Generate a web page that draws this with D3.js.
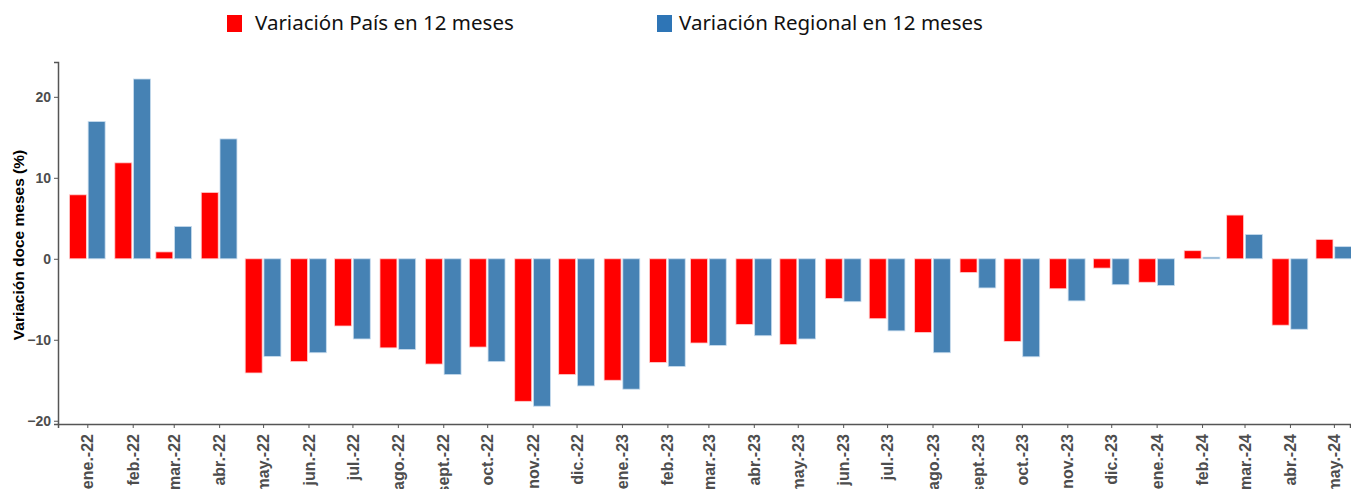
<!DOCTYPE html>
<html>
<head>
<meta charset="utf-8">
<script src="https://cdn.jsdelivr.net/npm/d3@7"></script>
<style>
  body { margin: 0; background: #fff; }
</style>
</head>
<body>
<div id="chart"></div>
<script>
// month labels and values
const months = ["ene.-22","feb.-22","mar.-22","abr.-22","may.-22","jun.-22","jul.-22","ago.-22","sept.-22","oct.-22","nov.-22","dic.-22",
                "ene.-23","feb.-23","mar.-23","abr.-23","may.-23","jun.-23","jul.-23","ago.-23","sept.-23","oct.-23","nov.-23","dic.-23",
                "ene.-24","feb.-24","mar.-24","abr.-24","may.-24"]
const pais = [7.9, 11.85, 0.85, 8.2, -14.1, -12.7, -8.3, -11.0, -13.0, -10.9, -17.6, -14.3,
              -15.0, -12.8, -10.4, -8.1, -10.6, -4.9, -7.4, -9.1, -1.7, -10.2, -3.7, -1.15,
              -2.9, 1.0, 5.4, -8.2, 2.4]
const regional = [16.95, 22.2, 4.0, 14.8, -12.05, -11.6, -9.9, -11.2, -14.3, -12.7, -18.2, -15.7,
                  -16.1, -13.3, -10.7, -9.5, -9.9, -5.3, -8.9, -11.6, -3.6, -12.1, -5.2, -3.2,
                  -3.3, 0.2, 3.0, -8.7, 1.5]
const yTicks = [-20, -10, 0, 10, 20]
const seriesNames = ["Variación País en 12 meses", "Variación Regional en 12 meses"]
const colors = ["#ff0000", "#4682b4"]

const W = 1351, H = 489
const margin = {top: 62, right: 1, bottom: 65, left: 58}

const dates = months.map((m, i) => new Date(2022 + Math.floor(i / 12), i % 12, 1))

const svg = d3.select("#chart").append("svg")
    .attr("width", W).attr("height", H)

const x = d3.scaleTime()
    .domain([new Date(2021, 11, 12), new Date(2024, 4, 12)])
    .range([margin.left, W - margin.right])

const y = d3.scaleLinear()
    .domain([-20.4, 24.3])
    .range([H - margin.bottom, margin.top])

// bar geometry in days
const barDays = 11.6
const gapDays = 1.2

const rows = []
dates.forEach((d, i) => {
  rows.push({date: d, s: 0, v: pais[i]})
  rows.push({date: d, s: 1, v: regional[i]})
})

svg.append("g")
  .selectAll("rect")
  .data(rows)
  .join("rect")
    .attr("x", d => {
      const off = d.s === 0 ? -(barDays + gapDays / 2) : gapDays / 2
      return x(d3.timeHour.offset(d.date, off * 24))
    })
    .attr("width", d => x(d3.timeHour.offset(d.date, barDays * 24)) - x(d.date))
    .attr("y", d => y(Math.max(0, d.v)))
    .attr("height", d => Math.abs(y(d.v) - y(0)))
    .attr("fill", d => colors[d.s])
    .attr("stroke", d => d.s === 0 ? "#ffd0d0" : "#c8dcee")
    .attr("stroke-width", 0.8)

const tickFont = sel => sel
    .attr("fill", "#4d4d4d")
    .style("font-family", "Liberation Sans, Arial, sans-serif")
    .style("font-weight", "bold")

// y axis
const yAxis = svg.append("g")
    .attr("transform", `translate(${margin.left},0)`)
    .call(d3.axisLeft(y).tickValues(yTicks).tickSize(4).tickFormat(d3.format("d")))
yAxis.select(".domain").attr("stroke", "#555").attr("stroke-width", 1.5)
yAxis.selectAll(".tick line").attr("stroke", "#555")
yAxis.selectAll(".tick text").call(tickFont).style("font-size", "14px")

// x axis
const xAxis = svg.append("g")
    .attr("transform", `translate(0,${H - margin.bottom})`)
    .call(d3.axisBottom(x).tickValues(dates).tickSize(4).tickFormat((d, i) => months[i]))
xAxis.select(".domain").attr("stroke", "#555").attr("stroke-width", 1.5)
xAxis.selectAll(".tick line").attr("stroke", "#555")
xAxis.selectAll(".tick text").call(tickFont)
    .style("font-size", "16px")
    .attr("text-anchor", "end")
    .attr("transform", "rotate(-90)")
    .attr("x", -10)
    .attr("y", 0)
    .attr("dy", "0.35em")

// y axis title
svg.append("text")
    .attr("transform", `translate(24,${(margin.top + H - margin.bottom) / 2 + 2}) rotate(-90)`)
    .attr("text-anchor", "middle")
    .style("font-family", "Liberation Sans, Arial, sans-serif")
    .style("font-weight", "bold")
    .style("font-size", "15.5px")
    .attr("fill", "#000")
    .text("Variación doce meses (%)")

// legend
const legendX = [227, 657]
const legendTextX = [255, 679]
const legendFill = ["#ff0000", "#2e75b6"]
const legend = svg.append("g")
seriesNames.forEach((name, i) => {
  legend.append("rect")
    .attr("x", legendX[i]).attr("y", 15)
    .attr("width", 15).attr("height", 17)
    .attr("fill", legendFill[i])
  legend.append("text")
    .attr("x", legendTextX[i]).attr("y", 30)
    .style("font-family", "Noto Sans, sans-serif")
    .style("font-size", "20.5px")
    .attr("fill", "#111")
    .text(name)
})
</script>
</body>
</html>
